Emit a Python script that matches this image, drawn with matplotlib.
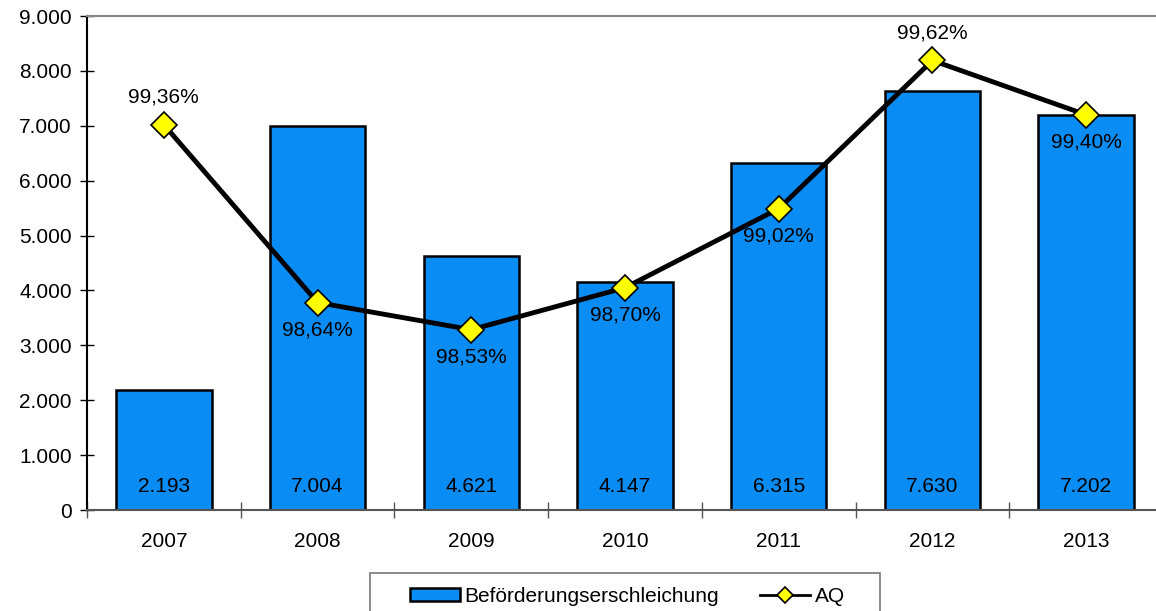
import matplotlib.pyplot as plt
from matplotlib.patches import Rectangle
from matplotlib.ticker import FuncFormatter, FixedLocator

plt.rcParams['font.family'] = ['Liberation Sans', 'DejaVu Sans']

years = ['2007', '2008', '2009', '2010', '2011', '2012', '2013']
befoerderung = [2193, 7004, 4621, 4147, 6315, 7630, 7202]
aq = [99.36, 98.64, 98.53, 98.70, 99.02, 99.62, 99.40]
# which AQ labels sit above the marker
aq_above = [True, False, False, False, False, True, False]

FS = 15
W, H = 1156, 611

fig = plt.figure(figsize=(W / 100, H / 100), dpi=100)
ax = fig.add_axes([87 / W, 1 - 510 / H, 1076 / W, 494 / H])

x = list(range(len(years)))
bars = ax.bar(x, befoerderung, width=0.62, color='#0A8CF5', edgecolor='black',
              linewidth=1.8, zorder=2, label='Beförderungserschleichung')

for xi, v in zip(x, befoerderung):
    ax.text(xi, 430, f'{v:,}'.replace(',', '.'), ha='center', va='center',
            fontsize=FS, zorder=3)

ax.set_xlim(-0.5, len(years) - 0.5)
ax.set_ylim(0, 9000)
ax.set_yticks(range(0, 9001, 1000))
ax.yaxis.set_major_formatter(FuncFormatter(lambda v, p: f'{int(v):,}'.replace(',', '.')))
ax.set_xticks(x)
ax.set_xticklabels(years)
ax.xaxis.set_minor_locator(FixedLocator([i + 0.5 for i in range(-1, len(years))]))
ax.tick_params(axis='x', which='major', length=0, pad=16, labelsize=FS)
ax.tick_params(axis='x', which='minor', direction='inout', length=12, width=1, color='#555555')
ax.tick_params(axis='y', direction='inout', length=10, width=1, labelsize=FS, pad=6)

ax.spines['left'].set_linewidth(1.5)
ax.spines['bottom'].set_color('#555555')
ax.spines['bottom'].set_linewidth(1.5)
ax.spines['top'].set_color('#888888')
ax.spines['top'].set_linewidth(1.5)
ax.spines['right'].set_visible(False)

# AQ on a hidden secondary scale
ax2 = ax.twinx()
ax2.set_ylim(97.8, 99.8)
line, = ax2.plot(x, aq, color='black', linewidth=3.5, marker='D', markersize=13,
                 markerfacecolor='#FFFF00', markeredgecolor='black', markeredgewidth=1.2,
                 zorder=4, label='AQ')
ax2.axis('off')

for xi, v, up in zip(x, aq, aq_above):
    label = f'{v:.2f}%'.replace('.', ',')
    ax2.annotate(label, (xi, v), xytext=(0, 13 if up else -13), textcoords='offset points',
                 ha='center', va='bottom' if up else 'top', fontsize=FS, zorder=5)

# legend box, open at the bottom edge of the figure
fig.patches.append(Rectangle((370 / W, -0.01), 510 / W, 0.01 + 38 / H,
                             transform=fig.transFigure, fill=False,
                             edgecolor='#777777', linewidth=1.2))
leg = fig.legend([bars, line], ['Beförderungserschleichung', 'AQ'],
                 loc='center left', bbox_to_anchor=(410 / W, 1 - 596 / H),
                 ncol=2, frameon=False, fontsize=FS,
                 handlelength=2.4, handleheight=0.6, columnspacing=2.0,
                 borderpad=0, borderaxespad=0, handletextpad=0.2)
leg.legend_handles[1].set_linewidth(2)
leg.legend_handles[1].set_markersize(8)

plt.savefig('out.png', dpi=100)
